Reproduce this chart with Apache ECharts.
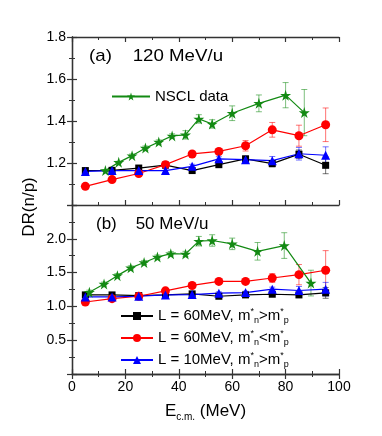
<!DOCTYPE html>
<html><head><meta charset="utf-8">
<script src="https://cdn.jsdelivr.net/npm/echarts@6/dist/echarts.min.js"></script>
<style>html,body{margin:0;padding:0;background:#fff}#c{width:382px;height:436px}</style>
</head><body><div id="c"></div>
<script>
// ---------- data ----------
const xModel = [5, 15, 25, 35, 45, 55, 65, 75, 85, 95];
// (a) 120 MeV/u
const a_L60_gt = [1.164, 1.165, 1.176, 1.19, 1.164, 1.192, 1.22, 1.197, 1.242, 1.189];
const a_L60_gt_err = [0.01, 0.01, 0.01, 0.01, 0.01, 0.01, 0.012, 0.015, 0.02, 0.04];
const a_L60_lt = [1.089, 1.121, 1.15, 1.192, 1.243, 1.255, 1.282, 1.358, 1.33, 1.382];
const a_L60_lt_err = [0.005, 0.005, 0.006, 0.01, 0.01, 0.012, 0.025, 0.035, 0.05, 0.08];
const a_L10_gt = [1.16, 1.164, 1.164, 1.164, 1.184, 1.22, 1.216, 1.211, 1.244, 1.237];
const a_L10_gt_err = [0.01, 0.01, 0.01, 0.01, 0.01, 0.01, 0.01, 0.02, 0.03, 0.04];
const a_nsclX = [12.5, 17.5, 22.5, 27.5, 32.5, 37.5, 42.5, 47.5, 52.5, 60, 70, 80, 87];
const a_nsclY = [1.164, 1.203, 1.235, 1.271, 1.30, 1.329, 1.334, 1.41, 1.386, 1.437, 1.484, 1.523, 1.44];
const a_nsclErr = [0.005, 0.005, 0.008, 0.01, 0.01, 0.01, 0.02, 0.02, 0.02, 0.035, 0.04, 0.06, 0.11];
// (b) 50 MeV/u
const b_L60_gt = [1.17, 1.17, 1.16, 1.17, 1.185, 1.15, 1.17, 1.18, 1.17, 1.20];
const b_L60_gt_err = [0.02, 0.02, 0.02, 0.02, 0.02, 0.02, 0.02, 0.02, 0.03, 0.08];
const b_L60_lt = [1.065, 1.115, 1.15, 1.23, 1.31, 1.37, 1.37, 1.42, 1.47, 1.535];
const b_L60_lt_err = [0.01, 0.02, 0.04, 0.02, 0.02, 0.02, 0.02, 0.065, 0.15, 0.29];
const b_L10_gt = [1.14, 1.14, 1.15, 1.17, 1.175, 1.195, 1.205, 1.255, 1.235, 1.255];
const b_L10_gt_err = [0.01, 0.01, 0.02, 0.02, 0.02, 0.02, 0.02, 0.03, 0.06, 0.1];
const b_nsclX = [6.5, 12, 17, 22, 27, 32, 37, 42.5, 47.5, 52.5, 60, 69.5, 79.5, 89.5];
const b_nsclY = [1.21, 1.33, 1.455, 1.57, 1.65, 1.73, 1.78, 1.775, 1.965, 1.975, 1.925, 1.815, 1.90, 1.345];
const b_nsclErr = [0.03, 0.03, 0.03, 0.03, 0.03, 0.03, 0.03, 0.04, 0.07, 0.085, 0.085, 0.13, 0.19, 0.19];
// tick labels
const xTicks = [0, 20, 40, 60, 80, 100];
const aYTicks = [1.2, 1.4, 1.6, 1.8];
const bYTicks = [0.5, 1.0, 1.5, 2.0];

// ---------- helpers ----------
const FONT = '"Liberation Sans", Arial, sans-serif';
const BLACK = '#000000', RED = '#ff0000', BLUE = '#0000ff', GREEN = '#138a13';
const STAR = 'path://M50,0 L61,35 L98,35 L68,57 L79,91 L50,70 L21,91 L32,57 L2,35 L39,35 Z';
const pair = (xs, ys) => xs.map((x, i) => [x, ys[i]]);
const triple = (xs, ys, es) => xs.map((x, i) => [x, ys[i], es[i]]);

function errSeries(xs, ys, es, color, gi) {
  return {
    type: 'custom', xAxisIndex: gi * 2, yAxisIndex: gi * 2, silent: true, z: 1,
    data: triple(xs, ys, es),
    renderItem: function (params, api) {
      const x = api.value(0), y = api.value(1), e = api.value(2);
      const t = api.coord([x, y + e]), b = api.coord([x, y - e]);
      const hw = 3;
      const st = { stroke: color, lineWidth: 1, opacity: 0.55 };
      return { type: 'group', children: [
        { type: 'line', shape: { x1: t[0], y1: t[1], x2: b[0], y2: b[1] }, style: st },
        { type: 'line', shape: { x1: t[0] - hw, y1: t[1], x2: t[0] + hw, y2: t[1] }, style: st },
        { type: 'line', shape: { x1: b[0] - hw, y1: b[1], x2: b[0] + hw, y2: b[1] }, style: st }
      ]};
    }
  };
}
function lineSeries(name, xs, ys, color, symbol, size, gi) {
  return {
    type: 'line', name: name, xAxisIndex: gi * 2, yAxisIndex: gi * 2, z: 3,
    data: pair(xs, ys), symbol: symbol, symbolSize: size, showSymbol: true,
    lineStyle: { color: color, width: 1.2 }, itemStyle: { color: color },
    animation: false
  };
}
const axisLineStyle = { lineStyle: { color: '#333', width: 1.3 } };
function xAx(gi, pos, labels) {
  return {
    type: 'value', gridIndex: gi, position: pos, min: 0, max: 100, interval: 20,
    axisLine: axisLineStyle,
    axisTick: { show: true, inside: true, length: 5, lineStyle: { color: '#333', width: 1.2 } },
    minorTick: { show: true, splitNumber: 2, length: 3, lineStyle: { color: '#333', width: 1 } },
    splitLine: { show: false },
    axisLabel: { show: labels, fontFamily: FONT, fontSize: 14, color: '#000', margin: 6,
                 formatter: v => xTicks.includes(v) ? String(v) : '' },
    name: labels ? 'E{s|c.m.} (MeV)' : '',
    nameLocation: 'middle', nameGap: 26,
    nameTextStyle: { fontFamily: FONT, fontSize: 17, color: '#000',
      rich: { s: { fontFamily: FONT, fontSize: 10, verticalAlign: 'bottom', lineHeight: 22, padding: [8, 0, 0, 0] } } }
  };
}
function yAx(gi, pos, min, max, interval, ticks, labels) {
  return {
    type: 'value', gridIndex: gi, position: pos, min: min, max: max, interval: interval,
    axisLine: axisLineStyle,
    axisTick: { show: true, inside: true, length: 5, lineStyle: { color: '#333', width: 1.2 } },
    minorTick: { show: true, splitNumber: 2, length: 3, lineStyle: { color: '#333', width: 1 } },
    splitLine: { show: false },
    axisLabel: { show: labels, fontFamily: FONT, fontSize: 14, color: '#000', margin: 6,
      formatter: v => ticks.some(t => Math.abs(t - v) < 1e-6) ? v.toFixed(1) : '' }
  };
}
const legendNames = {
  'NSCL data': 'NSCL data',
  'm1': 'L = 60MeV, m{sup|*}{sub|n}>m{sup|*}{sub|p}',
  'm2': 'L = 60MeV, m{sup|*}{sub|n}<m{sup|*}{sub|p}',
  'm3': 'L = 10MeV, m{sup|*}{sub|n}>m{sup|*}{sub|p}'
};
const legendRich = {
  sup: { fontFamily: FONT, fontSize: 9, verticalAlign: 'top', lineHeight: 9 },
  sub: { fontFamily: FONT, fontSize: 9, verticalAlign: 'bottom', lineHeight: 9 }
};

const chart = echarts.init(document.getElementById('c'), null, { renderer: 'canvas' });
chart.setOption({
  animation: false,
  backgroundColor: '#fff',
  grid: [
    { left: 72, top: 37, width: 267, height: 168 },
    { left: 72, top: 205, width: 267, height: 169 }
  ],
  xAxis: [xAx(0, 'bottom', false), xAx(0, 'top', false), xAx(1, 'bottom', true), xAx(1, 'top', false)],
  yAxis: [
    yAx(0, 'left', 1.0, 1.8, 0.2, aYTicks, true), yAx(0, 'right', 1.0, 1.8, 0.2, aYTicks, false),
    yAx(1, 'left', 0, 2.5, 0.5, bYTicks, true), yAx(1, 'right', 0, 2.5, 0.5, bYTicks, false)
  ],
  legend: [
    { data: ['NSCL data'], left: 106, top: 84, orient: 'vertical', itemWidth: 38, itemHeight: 10,
      formatter: n => legendNames[n], textStyle: { fontFamily: FONT, fontSize: 15, color: '#000' } },
    { data: ['m1', 'm2', 'm3'], left: 115, top: 302, orient: 'vertical', itemWidth: 32, itemHeight: 10, itemGap: 4,
      formatter: n => legendNames[n],
      textStyle: { fontFamily: FONT, fontSize: 15, color: '#000', lineHeight: 18, rich: legendRich } }
  ],
  graphic: [
    { type: 'text', left: 89, top: 48, style: { text: '(a)    120 MeV/u', font: '17px ' + FONT, fill: '#000' }, scaleX: 1.1 },
    { type: 'text', left: 96, top: 216, style: { text: '(b)    50 MeV/u', font: '17px ' + FONT, fill: '#000' } },
    { type: 'text', x: 29, y: 207, rotation: Math.PI / 2,
      style: { text: 'DR(n/p)', font: '17px ' + FONT, fill: '#000', align: 'center', verticalAlign: 'middle' } }
  ],
  series: [
    errSeries(xModel, a_L60_gt, a_L60_gt_err, BLACK, 0),
    errSeries(xModel, a_L60_lt, a_L60_lt_err, RED, 0),
    errSeries(xModel, a_L10_gt, a_L10_gt_err, BLUE, 0),
    errSeries(a_nsclX, a_nsclY, a_nsclErr, GREEN, 0),
    lineSeries('m1', xModel, a_L60_gt, BLACK, 'rect', 7, 0),
    lineSeries('m2', xModel, a_L60_lt, RED, 'circle', 9, 0),
    lineSeries('m3', xModel, a_L10_gt, BLUE, 'triangle', 9, 0),
    lineSeries('NSCL data', a_nsclX, a_nsclY, GREEN, STAR, 11, 0),
    errSeries(xModel, b_L60_gt, b_L60_gt_err, BLACK, 1),
    errSeries(xModel, b_L60_lt, b_L60_lt_err, RED, 1),
    errSeries(xModel, b_L10_gt, b_L10_gt_err, BLUE, 1),
    errSeries(b_nsclX, b_nsclY, b_nsclErr, GREEN, 1),
    lineSeries('m1', xModel, b_L60_gt, BLACK, 'rect', 7, 1),
    lineSeries('m2', xModel, b_L60_lt, RED, 'circle', 9, 1),
    lineSeries('m3', xModel, b_L10_gt, BLUE, 'triangle', 9, 1),
    lineSeries('NSCL data', b_nsclX, b_nsclY, GREEN, STAR, 11, 1)
  ]
});
</script></body></html>
